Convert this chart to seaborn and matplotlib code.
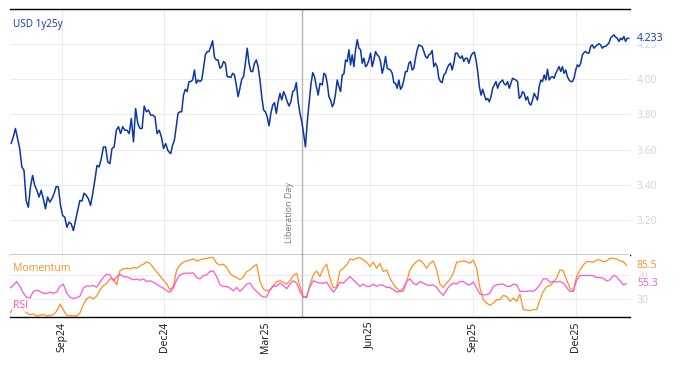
import pandas as pd
import seaborn as sns
import matplotlib.pyplot as plt
import matplotlib.dates as mdates
from matplotlib.ticker import FormatStrFormatter

# USD 1y25y swap rate in four stretches (each stretch spans its own dates)
rate_a = [3.634, 3.672, 3.720, 3.663, 3.606, 3.501, 3.482, 3.310, 3.272, 3.387, 3.453, 3.396, 3.368, 3.330,
          3.368, 3.320, 3.263, 3.330, 3.301, 3.320, 3.349, 3.390, 3.387, 3.282, 3.225, 3.215, 3.158, 3.187,
          3.177, 3.139, 3.196, 3.253, 3.310, 3.307, 3.352, 3.339, 3.320, 3.282, 3.349, 3.425, 3.510, 3.501,
          3.549, 3.615, 3.615, 3.530, 3.520, 3.606, 3.615, 3.710, 3.730, 3.691, 3.730, 3.710, 3.710, 3.691,
          3.777, 3.644, 3.834, 3.749, 3.720, 3.720, 3.848, 3.815, 3.825, 3.796, 3.796, 3.787, 3.691, 3.710,
          3.672, 3.606, 3.634, 3.596]
rate_b = [3.587, 3.577, 3.625, 3.653, 3.730, 3.806, 3.815, 3.815, 3.910, 3.943, 3.930, 3.987, 3.987, 3.996,
          4.053, 3.977, 3.996, 3.987, 3.996, 4.063, 4.139, 4.158, 4.158, 4.187, 4.219, 4.126, 4.110, 4.110,
          4.063, 4.072, 4.101, 4.091, 4.015, 4.015, 4.010, 4.034, 4.025, 3.968, 3.901, 3.949, 4.000, 4.015,
          4.091, 4.177, 4.091, 4.044, 4.044, 4.091, 4.110, 4.072, 3.996, 3.901, 3.825, 3.815, 3.787, 3.735,
          3.806, 3.853, 3.867, 3.806, 3.872, 3.920, 3.882, 3.930, 3.905, 3.872, 3.848, 3.872, 3.930, 3.939,
          3.981, 3.872, 3.806, 3.758, 3.691, 3.615, 3.758, 3.863, 3.968, 4.038, 4.015, 3.958, 3.910, 3.977]
rate_c = [3.968, 4.034, 4.025, 3.977, 3.901, 3.882, 3.844, 3.863, 3.920, 3.996, 3.958, 3.930, 4.025, 4.030,
          4.110, 4.101, 4.168, 4.082, 4.139, 4.072, 4.168, 4.225, 4.177, 4.168, 4.091, 4.120, 4.072, 4.082,
          4.110, 4.149, 4.072, 4.110, 4.158, 4.139, 4.130, 4.101, 4.034, 4.072, 4.130, 4.063, 4.057, 4.053,
          4.034, 3.981, 3.977, 3.949, 3.996, 3.943, 3.958, 3.996, 4.044, 4.044, 4.091, 4.101, 4.053, 4.063,
          4.120, 4.168, 4.196, 4.190, 4.187, 4.158, 4.130, 4.120, 4.139, 4.145, 4.164, 4.072, 4.091, 4.072,
          4.006, 3.987, 3.981, 4.025, 4.034, 4.063, 4.082, 4.091, 4.053, 4.091, 4.149, 4.149, 4.130, 4.120,
          4.133, 4.101, 4.120, 4.120, 4.091]
rate_d = [4.133, 4.149, 4.154, 4.110, 4.044, 3.958, 3.910, 3.943, 3.910, 3.882, 3.891, 3.872, 3.901, 3.949,
          3.968, 3.987, 3.949, 3.977, 3.987, 3.996, 3.973, 3.968, 3.987, 3.949, 3.977, 4.006, 4.000, 3.996,
          3.987, 3.891, 3.901, 3.930, 3.920, 3.882, 3.901, 3.863, 3.853, 3.882, 3.920, 3.901, 3.882, 3.958,
          3.996, 3.987, 4.025, 3.996, 4.057, 3.996, 4.011, 4.015, 4.006, 4.034, 4.053, 4.072, 4.044, 4.072,
          4.034, 4.053, 4.015, 3.996, 3.987, 3.987, 4.006, 4.053, 4.082, 4.072, 4.091, 4.139, 4.152, 4.158,
          4.149, 4.149, 4.187, 4.196, 4.177, 4.187, 4.196, 4.202, 4.196, 4.177, 4.187, 4.187, 4.196, 4.206,
          4.234, 4.244, 4.253, 4.240, 4.234, 4.215, 4.234, 4.225, 4.244, 4.215, 4.234, 4.233]
rate_spans = [("2024-07-18", "2024-12-04"), ("2024-12-05", "2025-04-18"),
              ("2025-04-20", "2025-08-28"), ("2025-08-30", "2026-01-17")]

# momentum and RSI, evenly spaced between these dates
ind_start, ind_end = "2024-07-17", "2026-01-15"
momentum = [6.8, 15.0, 28.8, 26.0, 12.2, 6.8, 4.0, 5.1, 1.8, 2.9, 4.0, 1.8, 2.4, 4.0, 9.5, 21.6, 12.2, 2.4,
            2.4, 1.8, 1.8, 6.8, 20.5, 30.4, 33.7, 29.9, 34.8, 45.2, 51.9, 55.7, 63.4, 63.4, 53.5, 77.2, 79.9,
            81.0, 79.9, 82.1, 81.0, 84.8, 87.6, 91.5, 89.2, 82.1, 75.0, 68.4, 61.2, 55.2,
            45.2, 50.8, 78.2, 86.5, 90.9, 93.1, 94.8, 96.4, 93.1, 94.8, 96.4, 97.5, 98.6, 98.6, 89.2, 86.5,
            87.6, 82.1, 72.8, 67.8, 65.6, 61.8, 66.2, 75.5, 78.2, 83.8, 87.6, 59.0, 46.4, 43.6, 45.2, 50.8,
            59.0, 60.1, 57.9, 54.6, 60.1, 68.9, 72.8, 50.8, 34.2, 31.5, 53.5, 70.0, 76.6,
            67.2, 81.0, 87.6, 64.5, 48.0, 50.8, 76.6, 81.0, 86.5, 96.4, 94.8, 97.5, 98.6, 94.8, 90.9, 83.8,
            90.9, 81.0, 89.2, 75.5, 78.2, 64.5, 54.6, 48.0, 42.5, 42.5, 59.0, 78.2, 86.5, 92.0, 94.8, 89.2,
            81.0, 89.2, 93.1, 78.2, 54.6, 49.1, 56.2, 62.8, 72.8, 90.9, 92.0, 93.1, 92.0,
            89.2, 94.8, 81.0, 48.0, 28.8, 23.2, 19.4, 23.2, 28.8, 28.8, 35.9, 34.2, 26.0, 31.5, 26.0, 38.1,
            12.2, 11.7, 10.6, 12.2, 12.2, 28.8, 42.5, 50.8, 51.9, 57.9, 64.5, 78.2, 76.6, 61.8, 48.0, 43.6,
            67.2, 78.2, 86.5, 92.0, 92.0, 90.9, 94.8, 94.8, 92.0, 93.1, 97.5, 97.5, 96.4, 93.1, 92.0, 85.5]
rsi = [48.0, 52.4, 59.0, 50.8, 39.8, 32.6, 31.5, 42.5, 44.7, 42.5, 39.2, 39.2, 41.4, 39.2, 41.4, 50.8, 54.6,
       39.8, 32.6, 31.0, 32.0, 34.8, 48.0, 51.9, 51.3, 52.4, 49.6, 57.9, 65.6, 71.1, 70.0, 60.1, 66.7, 71.1,
       67.2, 66.7, 64.5, 61.8, 62.8, 61.2, 63.4, 59.0, 60.1, 57.9, 54.6, 50.8, 48.0, 43.6,
       41.4, 48.0, 61.8, 70.0, 72.2, 72.8, 72.8, 73.3, 65.6, 63.4, 68.9, 70.0, 75.5, 76.6, 67.2, 53.5, 50.8,
       50.8, 48.0, 43.6, 49.1, 42.5, 48.0, 54.6, 56.2, 48.0, 42.5, 37.0, 33.2, 33.2, 45.2, 52.4, 50.8, 56.2,
       52.4, 46.9, 54.6, 60.1, 56.2, 42.5, 32.6, 34.2, 50.8, 60.1, 57.9,
       56.2, 56.2, 57.9, 49.1, 41.4, 48.0, 57.9, 56.2, 61.8, 67.2, 61.8, 56.2, 50.8, 54.6, 50.8, 50.8, 54.6,
       50.8, 53.5, 52.4, 49.1, 49.1, 45.2, 41.4, 42.5, 48.0, 59.0, 63.4, 56.2, 53.5, 59.0, 56.2, 53.5, 52.4,
       53.5, 49.1, 41.4, 35.9, 45.2, 52.4, 56.2, 54.6, 59.0, 59.0, 54.6,
       53.5, 57.9, 48.0, 38.1, 37.0, 37.0, 39.8, 50.8, 53.5, 54.6, 54.6, 50.8, 50.8, 54.6, 53.5, 42.5, 42.5,
       42.5, 43.6, 42.5, 46.9, 53.5, 63.4, 63.4, 57.9, 59.0, 57.9, 59.0, 56.2, 49.1, 42.5, 42.5, 61.8, 68.9,
       68.9, 68.9, 68.9, 68.4, 65.6, 65.6, 64.5, 60.1, 61.8, 68.9, 67.2, 60.1, 53.5, 55.3]

event_date = "2025-04-02"
event_label = "Liberation Day"
rate_ticks = [3.2, 3.4, 3.6, 3.8, 4.0, 4.2]
ind_ticks = [30, 70]

BLUE = "#0b36a3"
ORANGE = "#ff8f1f"
PINK = "#ff55d9"
LIGHT = "#d2d2d2"

sns.set_style("white")
plt.rcParams["font.family"] = ["Open Sans", "DejaVu Sans"]

# build frames
parts = []
for vals, (a, b) in zip([rate_a, rate_b, rate_c, rate_d], rate_spans):
    parts.append(pd.DataFrame({"date": pd.date_range(a, b, periods=len(vals)), "rate": vals}))
rates = pd.concat(parts, ignore_index=True)
ind = pd.DataFrame({"date": pd.date_range(ind_start, ind_end, periods=len(momentum)),
                    "momentum": momentum, "rsi": rsi})

fig = plt.figure(figsize=(6.74, 3.66), dpi=100)
ax = fig.add_axes([10 / 674, 1 - 255 / 366, 620 / 674, 246 / 366])
ax2 = fig.add_axes([10 / 674, 1 - 317 / 366, 620 / 674, 62 / 366], sharex=ax)

sns.lineplot(data=rates, x="date", y="rate", ax=ax, color=BLUE, lw=1.1)
sns.lineplot(data=ind, x="date", y="momentum", ax=ax2, color=ORANGE, lw=0.9)
sns.lineplot(data=ind, x="date", y="rsi", ax=ax2, color=PINK, lw=0.9)

ev = pd.Timestamp(event_date)
for a in (ax, ax2):
    a.axvline(ev, color="#b3b3b3", lw=1, zorder=1)
    a.set_xlabel("")
    a.set_ylabel("")
    a.grid(True, color="#ebebeb", lw=0.7)
    a.set_axisbelow(True)
    a.yaxis.tick_right()
    a.tick_params(axis="y", length=0, pad=5, labelsize=7.5, labelcolor=LIGHT)
    for s in ("left", "right"):
        a.spines[s].set_visible(False)
    a.spines["bottom"].set_color("black")
    a.spines["bottom"].set_linewidth(1)

ax.spines["top"].set_color("black")
ax.spines["top"].set_linewidth(1)
ax2.spines["top"].set_visible(False)

ax.set_xlim(pd.Timestamp("2024-07-17"), pd.Timestamp("2026-01-18"))
ax.set_ylim(3.0, 4.4)
ax.set_yticks(rate_ticks)
ax.yaxis.set_major_formatter(FormatStrFormatter("%.2f"))
ax2.set_ylim(0, 103)
ax2.set_yticks(ind_ticks)

ax2.xaxis.set_major_locator(mdates.MonthLocator(bymonth=[3, 6, 9, 12]))
ax2.xaxis.set_major_formatter(mdates.DateFormatter("%b%y"))
ax.tick_params(axis="x", direction="in", length=4.5, width=0.8, color="black", labelbottom=False)
ax2.tick_params(axis="x", direction="in", length=4.5, width=0.8, color="black",
                labelrotation=90, labelsize=7.5, pad=3.5, labelcolor="#111111")

# last values on the right, on a soft white patch like the original
tag = dict(facecolor="white", edgecolor="none", alpha=0.6, pad=0.5)
last_rate = rates["rate"].iloc[-1]
ax.annotate(f"{last_rate:.3f}", xy=(1, last_rate), xycoords=ax.get_yaxis_transform(),
            xytext=(5, 0), textcoords="offset points", va="center", ha="left", color=BLUE,
            fontsize=7.5, bbox=tag, annotation_clip=False)
for col, c in (("momentum", ORANGE), ("rsi", PINK)):
    v = ind[col].iloc[-1]
    ax2.annotate(f"{v:.1f}", xy=(1, v), xycoords=ax2.get_yaxis_transform(),
                 xytext=(5, 0), textcoords="offset points", va="center", ha="left", color=c,
                 fontsize=7.5, bbox=tag, annotation_clip=False)

# labels
ax.text(0.005, 0.935, "USD 1y25y", transform=ax.transAxes, color=BLUE, fontsize=7.2, va="center", ha="left")
box = dict(facecolor="white", edgecolor="none", alpha=0.75, pad=1)
ax2.text(0.005, 0.79, "Momentum", transform=ax2.transAxes, color=ORANGE, fontsize=7.5,
         va="center", ha="left", bbox=box, zorder=5)
ax2.text(0.005, 0.19, "RSI", transform=ax2.transAxes, color=PINK, fontsize=7.5,
         va="center", ha="left", bbox=box, zorder=5)
ax.annotate(event_label, xy=(mdates.date2num(ev), 0.05), xycoords=ax.get_xaxis_transform(), xytext=(-9, 0),
            textcoords="offset points", rotation=90, ha="center", va="bottom", fontsize=6.5, color="#777777")

fig.savefig("out.png", dpi=100)
